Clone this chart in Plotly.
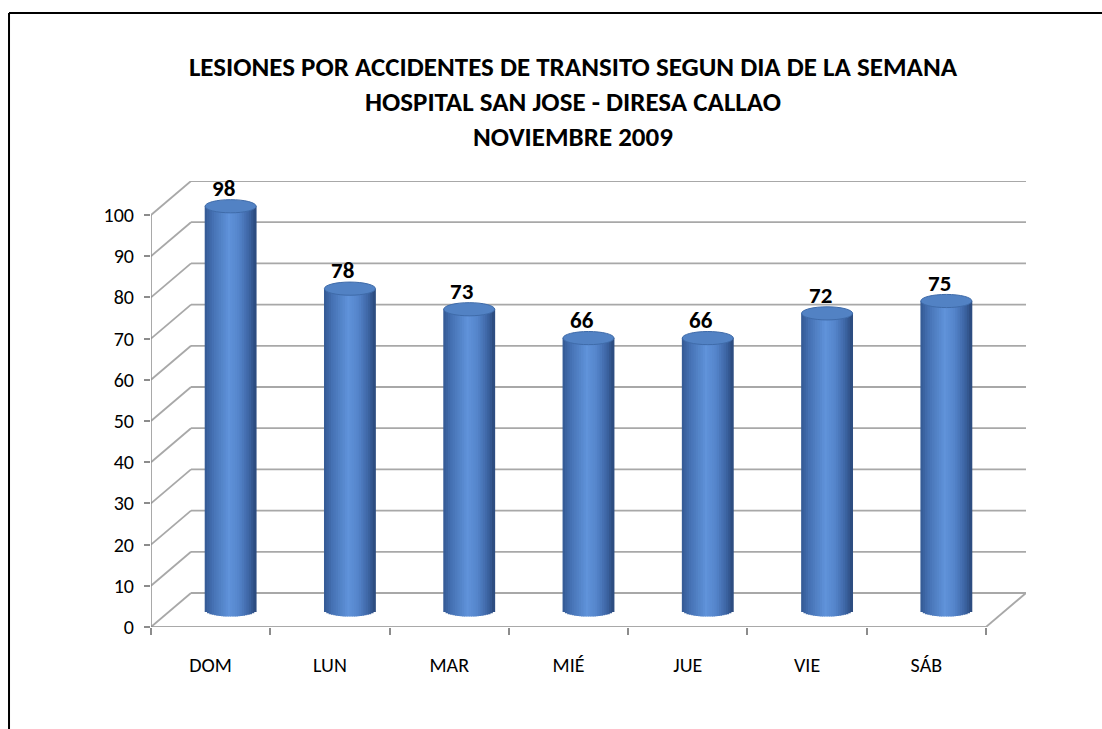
import numpy as np
import plotly.graph_objects as go

# ---------------- data ----------------
days = ["DOM", "LUN", "MAR", "MIÉ", "JUE", "VIE", "SÁB"]
values = [98, 78, 73, 66, 66, 72, 75]
y_ticks = list(range(0, 101, 10))
title_lines = [
    "LESIONES POR ACCIDENTES DE TRANSITO SEGUN DIA DE LA SEMANA",
    "HOSPITAL SAN JOSE - DIRESA CALLAO",
    "NOVIEMBRE 2009",
]

# ---------------- geometry (3D look) ----------------
W, H = 1102, 729
PX_CAT = 119.3          # pixels per category
PX_VAL = 4.12           # pixels per value unit
DX = 40 / PX_CAT        # depth offset in category units
DY = 34 / PX_VAL        # depth offset in value units
XMIN, XMAX = -0.5, len(days) - 0.5 + DX
YMAX = 100 + DY
L, T = 151, 181
plot_w = (XMAX - XMIN) * PX_CAT
plot_h = YMAX * PX_VAL
R_M = W - L - plot_w
B_M = H - T - plot_h

FONT = "Carlito, Calibri, Lato, sans-serif"
GRID = "#A8A8A8"
AXIS = "#8C8C8C"

RAD = 0.214             # cylinder radius (category units)
ELL = 1.6               # ellipse half height (value units)
N = 22                  # shading strips

stops = [(-1.0, (52, 88, 146)), (-0.7, (68, 112, 178)), (-0.05, (96, 147, 218)),
         (0.35, (84, 132, 202)), (0.75, (60, 99, 162)), (1.0, (42, 72, 122))]


def shade(u):
    for (u0, c0), (u1, c1) in zip(stops[:-1], stops[1:]):
        if u0 <= u <= u1:
            t = (u - u0) / (u1 - u0)
            c = [round(a + (b - a) * t) for a, b in zip(c0, c1)]
            return "rgb(%d,%d,%d)" % tuple(c)
    return "rgb(%d,%d,%d)" % stops[-1][1]


fig = go.Figure()

centers = [i + DX / 2 for i in range(len(days))]
mid_y = DY / 2
sw = 2 * RAD / N
for k in range(N):
    u = -1 + (2 * k + 1) / N
    base = mid_y - ELL * np.sqrt(max(0.0, 1 - u * u))
    fig.add_trace(go.Bar(
        x=[c + u * RAD for c in centers],
        y=[v + mid_y - base for v in values],
        base=[base] * len(values),
        width=sw * 1.35,
        marker=dict(color=shade(u), line=dict(width=0)),
        hoverinfo="skip",
        showlegend=False,
    ))

shapes = []
# back wall gridlines + left side diagonals
for v in y_ticks:
    shapes.append(dict(type="line", xref="x", yref="y", x0=XMIN + DX, x1=XMAX,
                       y0=v + DY, y1=v + DY, line=dict(color=GRID, width=1.8), layer="below"))
    shapes.append(dict(type="line", xref="x", yref="y", x0=XMIN, x1=XMIN + DX,
                       y0=v, y1=v + DY, line=dict(color=GRID, width=1.8), layer="below"))
# front y axis
shapes.append(dict(type="line", xref="x", yref="y", x0=XMIN, x1=XMIN, y0=0, y1=100,
                   line=dict(color=AXIS, width=1.5), layer="below"))
# floor front edge and right diagonal
shapes.append(dict(type="line", xref="x", yref="y", x0=XMIN, x1=len(days) - 0.5, y0=0, y1=0,
                   line=dict(color=AXIS, width=1.5), layer="below"))
shapes.append(dict(type="line", xref="x", yref="y", x0=len(days) - 0.5, x1=XMAX, y0=0, y1=DY,
                   line=dict(color=GRID, width=1.8), layer="below"))

# cylinder tops
for c, v in zip(centers, values):
    top = v + mid_y
    shapes.append(dict(type="circle", xref="x", yref="y", x0=c - RAD, x1=c + RAD,
                       y0=top - ELL, y1=top + ELL, fillcolor="#5282C4",
                       line=dict(color="#3F6BA9", width=1), layer="above"))


# outer border (only left and top visible); page pixel -> paper coords
def px_x(p):
    return (p - L) / plot_w


def px_y(p):
    return (H - B_M - p) / plot_h


shapes.append(dict(type="line", xref="paper", yref="paper", x0=px_x(9), x1=px_x(9),
                   y0=px_y(13), y1=px_y(740), line=dict(color="black", width=2)))
shapes.append(dict(type="line", xref="paper", yref="paper", x0=px_x(9), x1=px_x(1110),
                   y0=px_y(13), y1=px_y(13), line=dict(color="black", width=2)))

annotations = []
for c, v in zip(centers, values):
    annotations.append(dict(x=c, y=v + mid_y, xref="x", yref="y", text=str(v),
                            showarrow=False, xshift=-7, yshift=18.5,
                            font=dict(family=FONT, size=23, color="black", weight="bold")))

fig.update_layout(
    width=W, height=H,
    margin=dict(l=L, r=R_M, t=T, b=B_M),
    paper_bgcolor="white", plot_bgcolor="white",
    barmode="overlay",
    shapes=shapes,
    annotations=annotations,
    title=dict(text="<br>".join(title_lines), x=573 / W, xanchor="center",
               xref="container", y=1 - 76 / H, yanchor="top", yref="container",
               font=dict(family=FONT, size=27, color="black", weight="bold")),
    xaxis=dict(range=[XMIN, XMAX], tickmode="array", tickvals=list(range(len(days))),
               ticktext=days, ticks="", showgrid=False, zeroline=False, showline=False,
               tickfont=dict(family=FONT, size=20, color="black"), ticklabelstandoff=24,
               minor=dict(tickmode="array", tickvals=[XMIN + k for k in range(len(days) + 1)],
                          ticks="outside", ticklen=7, tickcolor=AXIS, tickwidth=1.5, showgrid=False)),
    yaxis=dict(range=[0, YMAX], tickmode="array", tickvals=y_ticks, ticks="outside",
               ticklen=6, tickcolor=AXIS, tickwidth=1.5, showgrid=False, zeroline=False,
               showline=False, tickfont=dict(family=FONT, size=20, color="black"),
               ticklabelstandoff=6),
    font=dict(family=FONT),
)

fig.write_html("out.html", config={"displayModeBar": False},
               post_script=["document.body.style.margin='0';document.body.style.overflow='hidden';"])
